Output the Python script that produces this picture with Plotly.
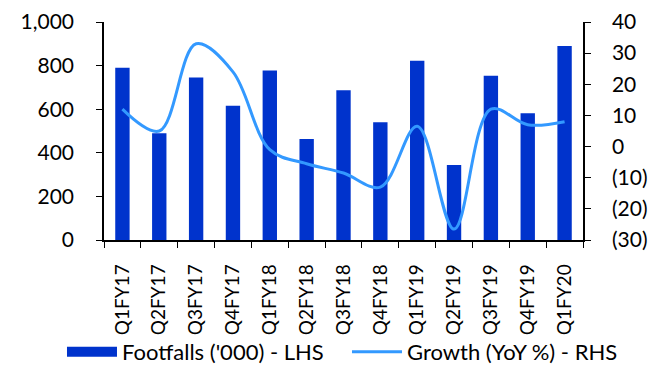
import plotly.graph_objects as go

quarters = ["Q1FY17", "Q2FY17", "Q3FY17", "Q4FY17", "Q1FY18", "Q2FY18", "Q3FY18",
            "Q4FY18", "Q1FY19", "Q2FY19", "Q3FY19", "Q4FY19", "Q1FY20"]
footfalls = [790, 490, 745, 616, 778, 463, 687, 540, 822, 344, 754, 581, 890]
growth = [12, 5, 33, 24, -1, -5.5, -8.5, -13, 6.5, -26.5, 12, 7, 8]

left_ticks = [0, 200, 400, 600, 800, 1000]
left_labels = ["0", "200", "400", "600", "800", "1,000"]
right_ticks = [-30, -20, -10, 0, 10, 20, 30, 40]
right_labels = ["(30)", "(20)", "(10)", "0", "10", "20", "30", "40"]

BAR_COLOR = "#0033CC"
LINE_COLOR = "#3399FF"
font_family = "Lato, 'Open Sans', sans-serif"

fig = go.Figure()
fig.add_trace(go.Bar(
    x=quarters, y=footfalls, name="Footfalls ('000) - LHS",
    marker=dict(color=BAR_COLOR, line=dict(width=0)), width=0.39, yaxis="y",
    showlegend=False,
))
# wide rectangular legend key for the bars
fig.add_trace(go.Scatter(
    x=[None], y=[None], name="Footfalls ('000) - LHS", mode="lines",
    line=dict(color=BAR_COLOR, width=14), yaxis="y",
))
fig.add_trace(go.Scatter(
    x=quarters, y=growth, name="Growth (YoY %) - RHS", mode="lines",
    line=dict(color=LINE_COLOR, width=3, shape="spline", smoothing=1.0), yaxis="y2",
))

axis_common = dict(
    showline=True, linecolor="black", linewidth=1.5,
    ticks="outside", ticklen=6, tickcolor="black", showgrid=False,
    zeroline=False, automargin=False,
)

fig.update_layout(
    width=664, height=365,
    margin=dict(l=104, r=81, t=22, b=125, autoexpand=False),
    plot_bgcolor="white", paper_bgcolor="white",
    font=dict(family=font_family, size=21, color="black"),
    xaxis=dict(
        **axis_common, tickson="boundaries", tickangle=-90,
        tickfont=dict(size=19), ticklabelstandoff=15,
    ),
    yaxis=dict(
        **axis_common, range=[0, 1000], tickvals=left_ticks, ticktext=left_labels,
        ticklabelstandoff=18,
    ),
    yaxis2=dict(
        **axis_common, range=[-30, 40], tickvals=right_ticks, ticktext=right_labels,
        overlaying="y", side="right", ticklabelstandoff=17,
    ),
    legend=dict(
        orientation="h", x=-0.0877, xanchor="left",
        y=-0.514, yanchor="middle", bgcolor="rgba(0,0,0,0)",
        font=dict(size=22), itemwidth=50, tracegroupgap=0,
        entrywidth=220, entrywidthmode="pixels",
    ),
    showlegend=True,
)

fig.write_html("out.html")
